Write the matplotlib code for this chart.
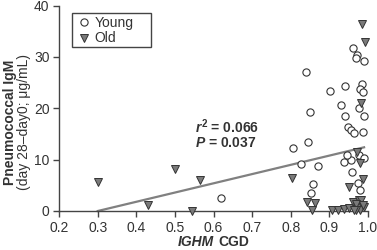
import numpy as np
import matplotlib
matplotlib.use('Agg')
import matplotlib.pyplot as plt
from matplotlib.lines import Line2D
from matplotlib.patches import Rectangle

plt.rcParams['font.family'] = 'Liberation Sans'
plt.rcParams['mathtext.fontset'] = 'custom'
plt.rcParams['mathtext.rm'] = 'Liberation Sans:bold'
plt.rcParams['mathtext.it'] = 'Liberation Sans:italic:bold'
plt.rcParams['mathtext.bf'] = 'Liberation Sans:bold'

# Young (circles)
young_x = [0.619, 0.961, 0.971, 0.968, 0.990, 0.840, 0.984, 0.941, 0.901, 0.979,
           0.987, 0.929, 0.978, 0.851, 0.940, 0.990, 0.949, 0.955, 0.964, 0.988,
           0.844, 0.806, 0.827, 0.870, 0.858, 0.853, 0.937, 0.955, 0.977, 0.991,
           0.958, 0.974, 0.979, 0.946]
young_y = [2.5, 31.8, 30.4, 29.8, 29.2, 27.1, 24.8, 24.3, 23.4, 23.7,
           23.2, 20.6, 20.1, 19.2, 18.5, 18.5, 16.3, 15.8, 15.2, 15.4,
           13.5, 12.3, 9.1, 8.8, 5.2, 3.6, 9.6, 9.9, 10.9, 10.4,
           7.5, 5.5, 4.1, 10.9]

# Old (triangles)
old_x = [0.301, 0.430, 0.500, 0.544, 0.565, 0.984, 0.992, 0.981, 0.804, 0.843,
         0.864, 0.856, 0.971, 0.979, 0.951, 0.988, 0.908, 0.922, 0.938, 0.951,
         0.962, 0.972, 0.977, 0.983, 0.980, 0.990, 0.970, 0.970, 0.988, 0.965]
old_y = [5.7, 1.2, 8.2, 0.0, 6.0, 36.4, 32.9, 21.1, 6.5, 1.7,
         1.5, 0.2, 11.5, 9.3, 4.7, 6.2, 0.2, 0.2, 0.3, 0.5,
         1.8, 0.8, 2.1, 2.1, 0.2, 0.8, 0.1, 1.3, 1.2, 0.1]

# regression line
fit_x = [0.30, 0.99]
fit_y = [0.0, 12.4]

xticks = [0.2, 0.3, 0.4, 0.5, 0.6, 0.7, 0.8, 0.9, 1.0]
yticks = [0, 10, 20, 30, 40]

dark = '#333333'

fig = plt.figure(figsize=(3.77, 2.5), dpi=100)
ax = fig.add_axes([0.157, 0.156, 0.819, 0.822])

ax.plot(fit_x, fit_y, color='#808080', lw=1.6, zorder=2, clip_on=False)
ax.plot(young_x, young_y, 'o', ms=5.2, mfc='white', mec=dark, mew=0.8,
        ls='none', zorder=3, clip_on=False)
ax.plot(old_x, old_y, 'v', ms=6.2, mfc='#7a7a7a', mec=dark, mew=0.7,
        ls='none', zorder=4, clip_on=False)

ax.set_xlim(0.2, 1.0)
ax.set_ylim(0, 40)
ax.set_xticks(xticks)
ax.set_xticklabels([f'{t:.1f}' for t in xticks])
ax.set_yticks(yticks)
for s in ['top', 'right']:
    ax.spines[s].set_visible(False)
for s in ['left', 'bottom']:
    ax.spines[s].set_color('#444444')
    ax.spines[s].set_linewidth(1.0)
ax.tick_params(direction='out', length=4, width=1.0, color='#444444',
               labelsize=10, labelcolor=dark, pad=3)

# legend (box drawn separately, wider than the entries like in the original)
ax.add_patch(Rectangle((0.040, 0.800), 0.256, 0.162, transform=ax.transAxes,
                       facecolor='white', edgecolor='#444444', lw=1.0, zorder=5))
handles = [Line2D([], [], marker='o', ls='none', ms=5.2, mfc='white', mec=dark, mew=0.8),
           Line2D([], [], marker='v', ls='none', ms=6.2, mfc='#7a7a7a', mec=dark, mew=0.7)]
leg = ax.legend(handles, ['Young', 'Old'], loc='upper left',
                bbox_to_anchor=(0.052, 0.962), borderaxespad=0, frameon=False,
                fontsize=10, handlelength=0.8, handletextpad=0.4,
                borderpad=0.2, labelspacing=0.1)
leg.set_zorder(6)
for t in leg.get_texts():
    t.set_color(dark)

# statistics
fig.text(0.517, 0.492, r'$r^2$ = 0.066', fontsize=10, fontweight='bold',
         color=dark, va='center', ha='left')
fig.text(0.517, 0.428, r'$P$ = 0.037', fontsize=10, fontweight='bold',
         color=dark, va='center', ha='left')

# axis labels
fig.text(0.027, 0.512, 'Pneumococcal IgM', rotation=90, fontsize=10,
         fontweight='bold', color=dark, ha='center', va='center')
fig.text(0.064, 0.512, '(day 28\u2013day0; \u03bcg/mL)', rotation=90, fontsize=10,
         color=dark, ha='center', va='center')
fig.text(214.3 / 377, 0.032, 'IGHM', fontsize=10, fontweight='bold',
         fontstyle='italic', color=dark, ha='right', va='center')
fig.text(218.2 / 377, 0.032, 'CGD', fontsize=10, fontweight='bold',
         color=dark, ha='left', va='center')

fig.savefig('out.png', dpi=100)
